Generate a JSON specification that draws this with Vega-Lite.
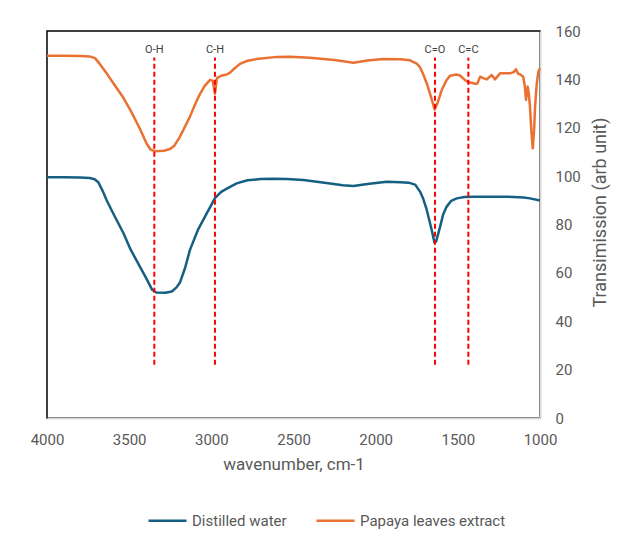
{
  "$schema": "https://vega.github.io/schema/vega-lite/v6.json",
  "width": 493,
  "height": 387,
  "autosize": {"type": "none"},
  "padding": {"left": 47, "top": 31, "right": 79, "bottom": 117},
  "background": "white",
  "config": {
    "font": "Roboto",
    "view": {"stroke": "#000000", "strokeWidth": 1.5}
  },
  "datasets": {
    "spec": [
      {"series": "Distilled water", "w": 4000, "v": 99.5},
      {"series": "Distilled water", "w": 3900, "v": 99.5},
      {"series": "Distilled water", "w": 3800, "v": 99.4},
      {"series": "Distilled water", "w": 3740, "v": 99.2},
      {"series": "Distilled water", "w": 3710, "v": 98.7},
      {"series": "Distilled water", "w": 3688, "v": 97.5},
      {"series": "Distilled water", "w": 3660, "v": 93.7},
      {"series": "Distilled water", "w": 3637, "v": 90},
      {"series": "Distilled water", "w": 3590, "v": 83.6},
      {"series": "Distilled water", "w": 3536, "v": 76.6},
      {"series": "Distilled water", "w": 3490, "v": 69.5},
      {"series": "Distilled water", "w": 3434, "v": 62.5},
      {"series": "Distilled water", "w": 3394, "v": 57.5},
      {"series": "Distilled water", "w": 3360, "v": 53},
      {"series": "Distilled water", "w": 3335, "v": 51.9},
      {"series": "Distilled water", "w": 3280, "v": 51.8},
      {"series": "Distilled water", "w": 3240, "v": 52.3},
      {"series": "Distilled water", "w": 3212, "v": 54},
      {"series": "Distilled water", "w": 3191, "v": 56},
      {"series": "Distilled water", "w": 3160, "v": 62},
      {"series": "Distilled water", "w": 3130, "v": 69.5},
      {"series": "Distilled water", "w": 3080, "v": 78},
      {"series": "Distilled water", "w": 3028, "v": 84.6},
      {"series": "Distilled water", "w": 2977, "v": 91},
      {"series": "Distilled water", "w": 2940, "v": 93.5},
      {"series": "Distilled water", "w": 2900, "v": 95},
      {"series": "Distilled water", "w": 2846, "v": 97},
      {"series": "Distilled water", "w": 2780, "v": 98.3},
      {"series": "Distilled water", "w": 2700, "v": 98.8},
      {"series": "Distilled water", "w": 2624, "v": 98.9},
      {"series": "Distilled water", "w": 2540, "v": 98.8},
      {"series": "Distilled water", "w": 2440, "v": 98.4},
      {"series": "Distilled water", "w": 2300, "v": 97.2},
      {"series": "Distilled water", "w": 2200, "v": 96.2},
      {"series": "Distilled water", "w": 2136, "v": 95.9},
      {"series": "Distilled water", "w": 2050, "v": 96.7},
      {"series": "Distilled water", "w": 1933, "v": 97.7},
      {"series": "Distilled water", "w": 1850, "v": 97.5},
      {"series": "Distilled water", "w": 1800, "v": 97.3},
      {"series": "Distilled water", "w": 1760, "v": 96.5},
      {"series": "Distilled water", "w": 1730, "v": 93.6},
      {"series": "Distilled water", "w": 1710, "v": 90.5},
      {"series": "Distilled water", "w": 1689, "v": 86},
      {"series": "Distilled water", "w": 1659, "v": 77.7},
      {"series": "Distilled water", "w": 1642, "v": 72.5},
      {"series": "Distilled water", "w": 1632, "v": 73},
      {"series": "Distilled water", "w": 1608, "v": 79},
      {"series": "Distilled water", "w": 1590, "v": 84},
      {"series": "Distilled water", "w": 1568, "v": 87.4},
      {"series": "Distilled water", "w": 1540, "v": 89.8},
      {"series": "Distilled water", "w": 1507, "v": 90.8},
      {"series": "Distilled water", "w": 1460, "v": 91.4},
      {"series": "Distilled water", "w": 1400, "v": 91.5},
      {"series": "Distilled water", "w": 1300, "v": 91.5},
      {"series": "Distilled water", "w": 1203, "v": 91.5},
      {"series": "Distilled water", "w": 1100, "v": 91.2},
      {"series": "Distilled water", "w": 1061, "v": 90.8},
      {"series": "Distilled water", "w": 1000, "v": 89.9},
      {"series": "Papaya leaves extract", "w": 4000, "v": 149.8},
      {"series": "Papaya leaves extract", "w": 3900, "v": 149.8},
      {"series": "Papaya leaves extract", "w": 3800, "v": 149.7},
      {"series": "Papaya leaves extract", "w": 3740, "v": 149.5},
      {"series": "Papaya leaves extract", "w": 3708, "v": 148.8},
      {"series": "Papaya leaves extract", "w": 3680, "v": 146.5},
      {"series": "Papaya leaves extract", "w": 3637, "v": 142.5},
      {"series": "Papaya leaves extract", "w": 3590, "v": 137.8},
      {"series": "Papaya leaves extract", "w": 3536, "v": 132.5},
      {"series": "Papaya leaves extract", "w": 3490, "v": 127},
      {"series": "Papaya leaves extract", "w": 3434, "v": 119.5},
      {"series": "Papaya leaves extract", "w": 3394, "v": 113.5},
      {"series": "Papaya leaves extract", "w": 3370, "v": 111},
      {"series": "Papaya leaves extract", "w": 3345, "v": 110.3},
      {"series": "Papaya leaves extract", "w": 3290, "v": 110.5},
      {"series": "Papaya leaves extract", "w": 3252, "v": 111.2},
      {"series": "Papaya leaves extract", "w": 3225, "v": 112.6},
      {"series": "Papaya leaves extract", "w": 3195, "v": 115.8},
      {"series": "Papaya leaves extract", "w": 3160, "v": 120.5},
      {"series": "Papaya leaves extract", "w": 3130, "v": 124.6},
      {"series": "Papaya leaves extract", "w": 3100, "v": 129.5},
      {"series": "Papaya leaves extract", "w": 3069, "v": 134},
      {"series": "Papaya leaves extract", "w": 3040, "v": 137.3},
      {"series": "Papaya leaves extract", "w": 3008, "v": 139.8},
      {"series": "Papaya leaves extract", "w": 2992, "v": 139.5},
      {"series": "Papaya leaves extract", "w": 2978, "v": 134},
      {"series": "Papaya leaves extract", "w": 2966, "v": 140.5},
      {"series": "Papaya leaves extract", "w": 2940, "v": 141.5},
      {"series": "Papaya leaves extract", "w": 2906, "v": 142},
      {"series": "Papaya leaves extract", "w": 2886, "v": 142.8},
      {"series": "Papaya leaves extract", "w": 2860, "v": 144.5},
      {"series": "Papaya leaves extract", "w": 2826, "v": 146.4},
      {"series": "Papaya leaves extract", "w": 2780, "v": 147.7},
      {"series": "Papaya leaves extract", "w": 2724, "v": 148.4},
      {"series": "Papaya leaves extract", "w": 2600, "v": 149.3},
      {"series": "Papaya leaves extract", "w": 2521, "v": 149.4},
      {"series": "Papaya leaves extract", "w": 2400, "v": 148.9},
      {"series": "Papaya leaves extract", "w": 2250, "v": 148},
      {"series": "Papaya leaves extract", "w": 2136, "v": 146.9},
      {"series": "Papaya leaves extract", "w": 2050, "v": 147.8},
      {"series": "Papaya leaves extract", "w": 1953, "v": 148.4},
      {"series": "Papaya leaves extract", "w": 1850, "v": 148.3},
      {"series": "Papaya leaves extract", "w": 1791, "v": 147.9},
      {"series": "Papaya leaves extract", "w": 1750, "v": 146.5},
      {"series": "Papaya leaves extract", "w": 1730, "v": 145},
      {"series": "Papaya leaves extract", "w": 1710, "v": 142},
      {"series": "Papaya leaves extract", "w": 1689, "v": 138.3},
      {"series": "Papaya leaves extract", "w": 1660, "v": 132},
      {"series": "Papaya leaves extract", "w": 1641, "v": 127.5},
      {"series": "Papaya leaves extract", "w": 1625, "v": 130},
      {"series": "Papaya leaves extract", "w": 1598, "v": 135.6},
      {"series": "Papaya leaves extract", "w": 1570, "v": 139.5},
      {"series": "Papaya leaves extract", "w": 1548, "v": 141.5},
      {"series": "Papaya leaves extract", "w": 1510, "v": 142},
      {"series": "Papaya leaves extract", "w": 1487, "v": 141.6},
      {"series": "Papaya leaves extract", "w": 1456, "v": 139.7},
      {"series": "Papaya leaves extract", "w": 1436, "v": 138.8},
      {"series": "Papaya leaves extract", "w": 1416, "v": 138.6},
      {"series": "Papaya leaves extract", "w": 1395, "v": 138.2},
      {"series": "Papaya leaves extract", "w": 1381, "v": 138.3},
      {"series": "Papaya leaves extract", "w": 1365, "v": 141.1},
      {"series": "Papaya leaves extract", "w": 1345, "v": 140.5},
      {"series": "Papaya leaves extract", "w": 1324, "v": 140},
      {"series": "Papaya leaves extract", "w": 1294, "v": 141.8},
      {"series": "Papaya leaves extract", "w": 1274, "v": 140},
      {"series": "Papaya leaves extract", "w": 1243, "v": 142.5},
      {"series": "Papaya leaves extract", "w": 1183, "v": 142.5},
      {"series": "Papaya leaves extract", "w": 1160, "v": 143},
      {"series": "Papaya leaves extract", "w": 1146, "v": 144.2},
      {"series": "Papaya leaves extract", "w": 1135, "v": 142.5},
      {"series": "Papaya leaves extract", "w": 1122, "v": 142.1},
      {"series": "Papaya leaves extract", "w": 1102, "v": 141.1},
      {"series": "Papaya leaves extract", "w": 1092, "v": 137},
      {"series": "Papaya leaves extract", "w": 1085, "v": 131.5},
      {"series": "Papaya leaves extract", "w": 1075, "v": 137},
      {"series": "Papaya leaves extract", "w": 1068, "v": 134},
      {"series": "Papaya leaves extract", "w": 1061, "v": 128.8},
      {"series": "Papaya leaves extract", "w": 1052, "v": 118},
      {"series": "Papaya leaves extract", "w": 1044, "v": 111.5},
      {"series": "Papaya leaves extract", "w": 1036, "v": 119},
      {"series": "Papaya leaves extract", "w": 1030, "v": 128.8},
      {"series": "Papaya leaves extract", "w": 1020, "v": 138},
      {"series": "Papaya leaves extract", "w": 1010, "v": 143.2},
      {"series": "Papaya leaves extract", "w": 1000, "v": 144.6}
    ],
    "bands": [
      {"label": "O-H", "w": 3347},
      {"label": "C-H", "w": 2978},
      {"label": "C=O", "w": 1639},
      {"label": "C=C", "w": 1436}
    ]
  },
  "layer": [
    {
      "data": {"name": "spec"},
      "mark": {"type": "line", "strokeWidth": 2.5, "interpolate": "linear", "strokeJoin": "round"},
      "encoding": {
        "x": {
          "field": "w", "type": "quantitative",
          "scale": {"domain": [1000, 4000], "reverse": true, "nice": false, "zero": false},
          "axis": {
            "values": [4000, 3500, 3000, 2500, 2000, 1500, 1000],
            "format": "d",
            "ticks": false, "grid": false,
            "domainColor": "#d9d9d9", "domainWidth": 2,
            "labelFontSize": 15, "labelColor": "#595959", "labelPadding": 14,
            "labelFlush": false,
            "title": "wavenumber, cm-1", "titleFontSize": 17, "titleFontWeight": "normal",
            "titleColor": "#595959", "titlePadding": 9
          }
        },
        "y": {
          "field": "v", "type": "quantitative",
          "scale": {"domain": [0, 160], "nice": false},
          "axis": {
            "orient": "right",
            "values": [0, 20, 40, 60, 80, 100, 120, 140, 160],
            "ticks": false, "grid": false,
            "domainColor": "#d9d9d9", "domainWidth": 2,
            "labelFontSize": 15, "labelColor": "#595959", "labelPadding": 15,
            "labelFlush": false,
            "title": "Transimission (arb unit)", "titleFontSize": 18, "titleFontWeight": "normal",
            "titleColor": "#595959", "titleAngle": 270,
            "titleX": 60, "titleY": 181, "titleAlign": "center", "titleBaseline": "middle"
          }
        },
        "color": {
          "field": "series", "type": "nominal",
          "scale": {"domain": ["Distilled water", "Papaya leaves extract"], "range": ["#156082", "#E97132"]},
          "legend": {
            "title": null, "orient": "none", "direction": "horizontal",
            "legendX": 100, "legendY": 469,
            "symbolType": "stroke", "symbolSize": 1444, "symbolStrokeWidth": 2.5,
            "labelFontSize": 15, "labelColor": "#595959", "columnPadding": 24,
            "labelOffset": 4
          }
        }
      }
    },
    {
      "data": {"name": "bands"},
      "mark": {"type": "rule", "color": "#ff0000", "strokeWidth": 2, "strokeDash": [5, 3]},
      "encoding": {
        "x": {"field": "w", "type": "quantitative"},
        "y": {"datum": 22},
        "y2": {"datum": 149}
      }
    },
    {
      "data": {"name": "bands"},
      "mark": {"type": "text", "fontSize": 11, "color": "#404040", "baseline": "middle"},
      "encoding": {
        "x": {"field": "w", "type": "quantitative"},
        "y": {"datum": 152},
        "text": {"field": "label"}
      }
    }
  ]
}
